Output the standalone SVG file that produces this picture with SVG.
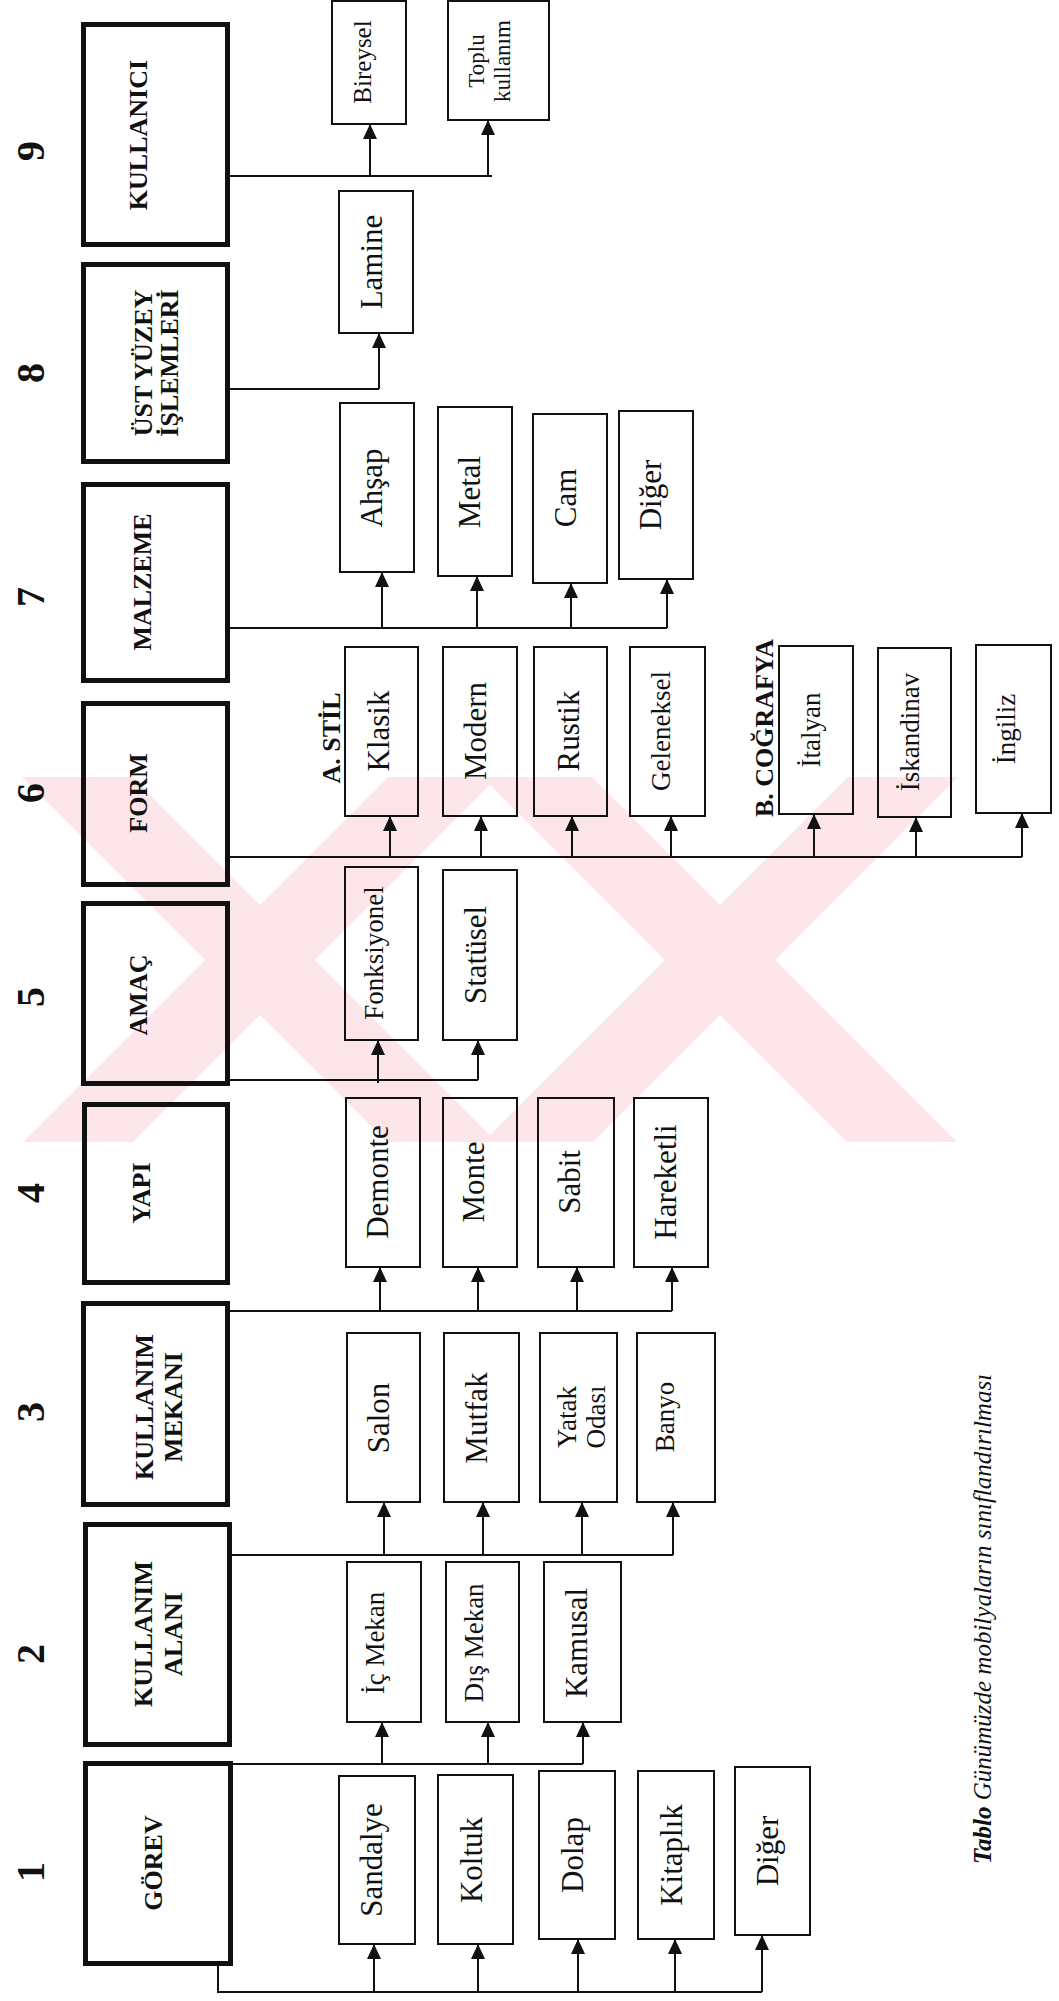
<svg xmlns="http://www.w3.org/2000/svg" width="1059" height="2001" viewBox="0 0 1059 2001">
<defs>
<style>
.hdr{fill:none;stroke:#111;stroke-width:5}
.it{fill:none;stroke:#111;stroke-width:2}
.ht{font-family:"Liberation Serif","Times New Roman",serif;font-weight:bold;font-size:26px;fill:#111;text-anchor:middle}
.num{font-family:"Liberation Serif","Times New Roman",serif;font-weight:bold;font-size:40px;fill:#111;text-anchor:middle}
.t{font-family:"Liberation Serif","Times New Roman",serif;font-size:31px;fill:#111;text-anchor:middle}
.s{font-family:"Liberation Serif","Times New Roman",serif;font-size:27px;fill:#111;text-anchor:middle}
.xs{font-family:"Liberation Serif","Times New Roman",serif;font-size:23px;fill:#111;text-anchor:middle}
.cap{font-family:"Liberation Serif","Times New Roman",serif;font-style:italic;font-size:25px;fill:#111}
.c{fill:none;stroke:#111;stroke-width:2}
.a{fill:none;stroke:#111;stroke-width:2;marker-end:url(#ah)}
.wm{fill:#fde6ea}
</style>
<marker id="ah" markerUnits="userSpaceOnUse" markerWidth="15" markerHeight="14" viewBox="0 0 15 14" refX="15" refY="7" orient="auto">
<path d="M0,0 L15,7 L0,14 z" fill="#111"/>
</marker>
<clipPath id="band"><rect x="0" y="777" width="975" height="365"/></clipPath>
</defs>
<rect width="1059" height="2001" fill="#fff"/>

<g id="watermark" clip-path="url(#band)">
<polygon class="wm" points="22,777 132,777 497,1142 387,1142"/>
<polygon class="wm" points="388,777 498,777 133,1142 23,1142"/>
<polygon class="wm" points="482,777 592,777 957,1142 847,1142"/>
<polygon class="wm" points="848,777 958,777 593,1142 483,1142"/>
</g>

<g id="numbers">
<text class="num" transform="translate(44,151) rotate(-90)">9</text>
<text class="num" transform="translate(44,373) rotate(-90)">8</text>
<text class="num" transform="translate(44,597) rotate(-90)">7</text>
<text class="num" transform="translate(44,793) rotate(-90)">6</text>
<text class="num" transform="translate(44,997) rotate(-90)">5</text>
<text class="num" transform="translate(44,1193) rotate(-90)">4</text>
<text class="num" transform="translate(44,1412) rotate(-90)">3</text>
<text class="num" transform="translate(44,1654) rotate(-90)">2</text>
<text class="num" transform="translate(44,1872) rotate(-90)">1</text>
</g>

<g id="h9"><rect class="hdr" x="83.5" y="24.5" width="144" height="220"/><text class="ht" transform="translate(147,135) rotate(-90)">KULLANICI</text></g>
<g id="h8"><rect class="hdr" x="83.5" y="264.5" width="144" height="197"/><text class="ht" transform="translate(152,363) rotate(-90)">ÜST YÜZEY</text><text class="ht" transform="translate(178,363) rotate(-90)">İŞLEMLERİ</text></g>
<g id="h7"><rect class="hdr" x="83.5" y="484.5" width="144" height="196"/><text class="ht" transform="translate(151,582) rotate(-90)">MALZEME</text></g>
<g id="h6"><rect class="hdr" x="83.5" y="703.5" width="144" height="181"/><text class="ht" transform="translate(147,793) rotate(-90)">FORM</text></g>
<g id="h5"><rect class="hdr" x="83.5" y="903.5" width="144" height="180"/><text class="ht" transform="translate(147,995) rotate(-90)">AMAÇ</text></g>
<g id="h4"><rect class="hdr" x="84.5" y="1104.5" width="143" height="178"/><text class="ht" transform="translate(150,1193) rotate(-90)">YAPI</text></g>
<g id="h3"><rect class="hdr" x="83.5" y="1303.5" width="144" height="201"/><text class="ht" transform="translate(153,1407) rotate(-90)">KULLANIM</text><text class="ht" transform="translate(182,1407) rotate(-90)">MEKANI</text></g>
<g id="h2"><rect class="hdr" x="85.5" y="1524.5" width="144" height="220"/><text class="ht" transform="translate(152,1634) rotate(-90)">KULLANIM</text><text class="ht" transform="translate(182,1634) rotate(-90)">ALANI</text></g>
<g id="h1"><rect class="hdr" x="85.5" y="1763.5" width="145" height="200"/><text class="ht" transform="translate(162,1863) rotate(-90)">GÖREV</text></g>

<g id="n9a"><rect class="it" x="332" y="1" width="74" height="123"/><text class="s" style="font-size:25px" transform="translate(371,62) rotate(-90)">Bireysel</text></g>
<g id="n9b"><rect class="it" x="448" y="1" width="101" height="119"/><text class="xs" transform="translate(484,61) rotate(-90)">Toplu</text><text class="xs" transform="translate(510,61) rotate(-90)">kullanım</text></g>

<g id="n8a"><rect class="it" x="339" y="191" width="74" height="142"/><text class="t" transform="translate(382,262) rotate(-90)">Lamine</text></g>

<g id="n7a"><rect class="it" x="340" y="403" width="74" height="169"/><text class="t" transform="translate(382,488) rotate(-90)">Ahşap</text></g>
<g id="n7b"><rect class="it" x="438" y="407" width="74" height="169"/><text class="t" transform="translate(480,492) rotate(-90)">Metal</text></g>
<g id="n7c"><rect class="it" x="533" y="414" width="74" height="169"/><text class="t" transform="translate(576,498) rotate(-90)">Cam</text></g>
<g id="n7d"><rect class="it" x="619" y="411" width="74" height="168"/><text class="t" transform="translate(661,495) rotate(-90)">Diğer</text></g>

<g id="lblA"><text class="ht" transform="translate(340,738) rotate(-90)">A. STİL</text></g>
<g id="lblB"><text class="ht" transform="translate(773,728) rotate(-90)">B. COĞRAFYA</text></g>
<g id="n6a"><rect class="it" x="345" y="647" width="73" height="169"/><text class="t" transform="translate(389,731) rotate(-90)">Klasik</text></g>
<g id="n6b"><rect class="it" x="443" y="647" width="74" height="169"/><text class="t" transform="translate(486,731) rotate(-90)">Modern</text></g>
<g id="n6c"><rect class="it" x="534" y="647" width="73" height="169"/><text class="t" transform="translate(579,731) rotate(-90)">Rustik</text></g>
<g id="n6d"><rect class="it" x="630" y="647" width="75" height="169"/><text class="s" transform="translate(670,731) rotate(-90)">Geleneksel</text></g>
<g id="n6e"><rect class="it" x="779" y="646" width="74" height="168"/><text class="s" transform="translate(820,730) rotate(-90)">İtalyan</text></g>
<g id="n6f"><rect class="it" x="878" y="648" width="73" height="169"/><text class="s" transform="translate(919,732) rotate(-90)">İskandinav</text></g>
<g id="n6g"><rect class="it" x="976" y="645" width="75" height="168"/><text class="s" transform="translate(1015,729) rotate(-90)">İngiliz</text></g>

<g id="n5a"><rect class="it" x="345" y="867" width="73" height="173"/><text class="s" transform="translate(383,953) rotate(-90)">Fonksiyonel</text></g>
<g id="n5b"><rect class="it" x="443" y="870" width="74" height="170"/><text class="t" transform="translate(486,955) rotate(-90)">Statüsel</text></g>

<g id="n4a"><rect class="it" x="346" y="1098" width="74" height="169"/><text class="t" transform="translate(388,1182) rotate(-90)">Demonte</text></g>
<g id="n4b"><rect class="it" x="443" y="1098" width="74" height="169"/><text class="t" transform="translate(484,1182) rotate(-90)">Monte</text></g>
<g id="n4c"><rect class="it" x="538" y="1098" width="76" height="169"/><text class="t" transform="translate(580,1182) rotate(-90)">Sabit</text></g>
<g id="n4d"><rect class="it" x="634" y="1098" width="74" height="169"/><text class="t" transform="translate(676,1182) rotate(-90)">Hareketli</text></g>

<g id="n3a"><rect class="it" x="347" y="1333" width="73" height="169"/><text class="t" transform="translate(389,1418) rotate(-90)">Salon</text></g>
<g id="n3b"><rect class="it" x="444" y="1333" width="75" height="169"/><text class="t" transform="translate(487,1418) rotate(-90)">Mutfak</text></g>
<g id="n3c"><rect class="it" x="540" y="1333" width="77" height="169"/><text class="s" transform="translate(576,1417) rotate(-90)">Yatak</text><text class="s" transform="translate(605,1417) rotate(-90)">Odası</text></g>
<g id="n3d"><rect class="it" x="637" y="1333" width="78" height="169"/><text class="s" transform="translate(674,1417) rotate(-90)">Banyo</text></g>

<g id="n2a"><rect class="it" x="347" y="1562" width="74" height="160"/><text class="s" transform="translate(384,1643) rotate(-90)">İç Mekan</text></g>
<g id="n2b"><rect class="it" x="446" y="1562" width="73" height="160"/><text class="s" transform="translate(483,1643) rotate(-90)">Dış Mekan</text></g>
<g id="n2c"><rect class="it" x="544" y="1562" width="77" height="160"/><text class="t" transform="translate(587,1643) rotate(-90)">Kamusal</text></g>

<g id="n1a"><rect class="it" x="339" y="1776" width="76" height="168"/><text class="t" transform="translate(382,1860) rotate(-90)">Sandalye</text></g>
<g id="n1b"><rect class="it" x="438" y="1775" width="75" height="169"/><text class="t" transform="translate(482,1860) rotate(-90)">Koltuk</text></g>
<g id="n1c"><rect class="it" x="539" y="1771" width="76" height="168"/><text class="t" transform="translate(583,1855) rotate(-90)">Dolap</text></g>
<g id="n1d"><rect class="it" x="638" y="1771" width="76" height="168"/><text class="t" transform="translate(682,1855) rotate(-90)">Kitaplık</text></g>
<g id="n1e"><rect class="it" x="735" y="1767" width="75" height="168"/><text class="t" transform="translate(778,1851) rotate(-90)">Diğer</text></g>

<g id="connectors">
<path class="c" d="M227,176 H492"/>
<path class="a" d="M370,176 V124"/>
<path class="a" d="M488,176 V120"/>
<path class="c" d="M229,389 H379"/>
<path class="a" d="M379,389 V333"/>
<path class="c" d="M229,628 H667"/>
<path class="a" d="M382,628 V572"/>
<path class="a" d="M477,628 V576"/>
<path class="a" d="M571,628 V583"/>
<path class="a" d="M667,628 V579"/>
<path class="c" d="M229,857 H1022"/>
<path class="a" d="M390,857 V816"/>
<path class="a" d="M481,857 V816"/>
<path class="a" d="M572,857 V816"/>
<path class="a" d="M671,857 V816"/>
<path class="a" d="M814,857 V814"/>
<path class="a" d="M916,857 V817"/>
<path class="a" d="M1022,857 V813"/>
<path class="c" d="M229,1080 H478"/>
<path class="a" d="M378,1083 V1040"/>
<path class="a" d="M478,1080 V1040"/>
<path class="c" d="M230,1311 H672"/>
<path class="a" d="M380,1311 V1267"/>
<path class="a" d="M478,1311 V1267"/>
<path class="a" d="M577,1311 V1267"/>
<path class="a" d="M672,1311 V1267"/>
<path class="c" d="M232,1555 H673"/>
<path class="a" d="M384,1555 V1502"/>
<path class="a" d="M483,1555 V1502"/>
<path class="a" d="M582,1555 V1502"/>
<path class="a" d="M673,1555 V1502"/>
<path class="c" d="M233,1764 H583"/>
<path class="a" d="M382,1764 V1722"/>
<path class="a" d="M488,1764 V1722"/>
<path class="a" d="M583,1764 V1722"/>
<path class="c" d="M218,1966 V1992 H762"/>
<path class="a" d="M374,1992 V1944"/>
<path class="a" d="M478,1992 V1944"/>
<path class="a" d="M578,1992 V1939"/>
<path class="a" d="M675,1992 V1939"/>
<path class="a" d="M762,1992 V1935"/>
</g>

<g id="caption"><text class="cap" transform="translate(991,1864) rotate(-90)"><tspan font-weight="bold">Tablo</tspan>  Günümüzde mobilyaların sınıflandırılması</text></g>
</svg>
